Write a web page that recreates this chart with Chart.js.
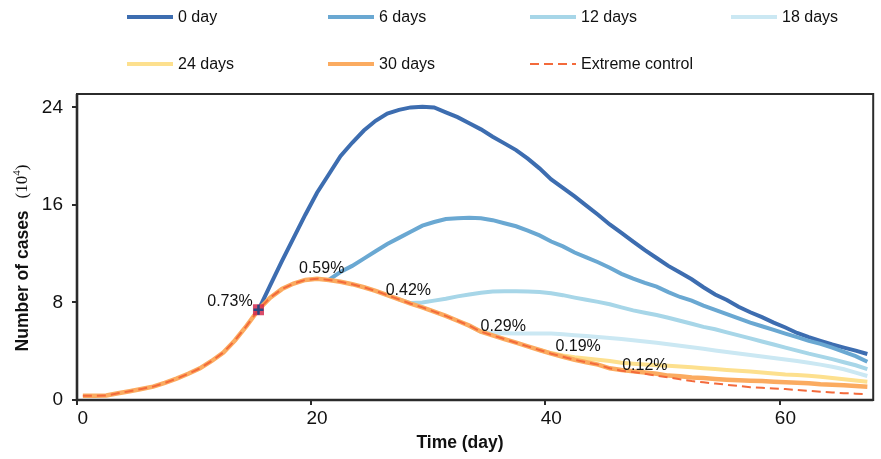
<!DOCTYPE html>
<html>
<head>
<meta charset="utf-8">
<script src="https://cdn.jsdelivr.net/npm/chart.js@4"></script>
<style>
html, body { margin: 0; padding: 0; background: #fff; }
</style>
</head>
<body>
<canvas id="myChart" width="881" height="459"></canvas>
<script>
// days 0..67 of the simulation
const days = Array.from({ length: 68 }, (_, i) => i);

// the common trajectory = extreme control, days 0..67 (cases, 10^4)
const extremeControl = [0.35, 0.35, 0.37, 0.55, 0.72, 0.9, 1.1, 1.4, 1.75, 2.15, 2.6, 3.2, 3.9, 4.9, 6.1, 7.4,
    8.4, 9.1, 9.55, 9.85, 9.95, 9.85, 9.7, 9.5, 9.25, 8.95, 8.6, 8.25, 7.9, 7.6, 7.25,
    6.9, 6.5, 6.1, 5.6, 5.3, 5.0, 4.7, 4.4, 4.1, 3.8, 3.55, 3.3, 3.1, 2.9, 2.6,
    2.4, 2.3, 2.15, 2.0, 1.85, 1.7, 1.55, 1.45, 1.35, 1.25, 1.15, 1.05, 1.0, 0.95, 0.9, 0.82, 0.75, 0.68, 0.62, 0.56, 0.52, 0.49];

// branches, each starting on its own day
const zeroDayStart = 15;
const zeroDay = [7.4, 9.4, 11.4, 13.3, 15.2, 17.0, 18.5, 20.0, 21.1, 22.1, 22.9, 23.5, 23.8, 24.0, 24.05,
    24.0, 23.6, 23.2, 22.7, 22.2, 21.6, 21.05, 20.5, 19.8, 19.0, 18.1, 17.4, 16.7, 15.95, 15.2,
    14.4, 13.7, 13.0, 12.3, 11.65, 11.0, 10.45, 9.9, 9.25, 8.65, 8.2, 7.65, 7.2, 6.8, 6.35,
    5.95, 5.5, 5.15, 4.85, 4.55, 4.3, 4.05, 3.77];
const sixDaysStart = 21;
const sixDays = [9.85, 10.5, 11.0, 11.6, 12.2, 12.8, 13.3, 13.8, 14.3, 14.6, 14.85, 14.9, 14.95, 14.9, 14.75,
    14.5, 14.25, 13.9, 13.5, 13.0, 12.6, 12.1, 11.7, 11.3, 10.85, 10.35, 9.95, 9.6, 9.3, 8.85,
    8.45, 8.15, 7.75, 7.4, 7.05, 6.7, 6.35, 6.05, 5.75, 5.45, 5.15, 4.85, 4.6, 4.3, 3.95, 3.6, 3.14];
const twelveDaysStart = 27;
const twelveDays = [8.25, 7.95, 8.0, 8.15, 8.3, 8.5, 8.65, 8.8, 8.9, 8.92, 8.92, 8.9, 8.85, 8.75, 8.6,
    8.4, 8.22, 8.05, 7.85, 7.6, 7.35, 7.15, 6.97, 6.75, 6.5, 6.25, 6.0, 5.8, 5.55, 5.3,
    5.05, 4.8, 4.55, 4.3, 4.05, 3.8, 3.58, 3.35, 3.1, 2.85, 2.54];
const eighteenDaysStart = 33;
const eighteenDays = [6.1, 5.6, 5.5, 5.47, 5.46, 5.45, 5.45, 5.45, 5.4, 5.32, 5.25, 5.17, 5.08, 5.0, 4.9,
    4.8, 4.7, 4.58, 4.45, 4.32, 4.2, 4.06, 3.94, 3.82, 3.7, 3.57, 3.45, 3.33, 3.2, 3.06,
    2.9, 2.72, 2.52, 2.25, 1.97];
const twentyFourDaysStart = 39;
const twentyFourDays = [4.1, 3.85, 3.65, 3.5, 3.4, 3.3, 3.2, 3.05, 2.98, 2.92, 2.86, 2.8, 2.74, 2.68, 2.6,
    2.54, 2.47, 2.4, 2.33, 2.26, 2.18, 2.1, 2.05, 1.98, 1.9, 1.8, 1.7, 1.6, 1.5];
const thirtyDaysStart = 45;
const thirtyDays = [2.6, 2.46, 2.35, 2.25, 2.15, 2.0, 1.95, 1.85, 1.8, 1.72, 1.66, 1.62, 1.58, 1.55, 1.5,
    1.45, 1.42, 1.38, 1.3, 1.25, 1.2, 1.15, 1.09];

// control start marker
const markerDay = 15;
const markerValue = 7.4;

// percentages written next to each branch: [text, day, value]
const noteTexts = ['0.73%', '0.59%', '0.42%', '0.29%', '0.19%', '0.12%'];
const noteDays = [14.5, 20.4, 27.8, 35.9, 42.3, 48.0];
const noteValues = [8.1, 10.8, 8.95, 6.05, 4.35, 2.8];

const xTicks = [0, 20, 40, 60];
const yTicks = [0, 8, 16, 24];

const FONT = '"Liberation Sans", Arial, Helvetica, sans-serif';

function branch(values, start, withPrefix) {
    return days.map(d => ({
        x: d,
        y: d < start ? (withPrefix ? extremeControl[d] : null) : values[d - start]
    }));
}

const series = [
    { label: '0 day', color: '#3d6db0', width: 4, data: branch(zeroDay, zeroDayStart) },
    { label: '6 days', color: '#6aa8d2', width: 4, data: branch(sixDays, sixDaysStart) },
    { label: '12 days', color: '#a7d6e8', width: 4, data: branch(twelveDays, twelveDaysStart) },
    { label: '18 days', color: '#cbe8f3', width: 4, data: branch(eighteenDays, eighteenDaysStart) },
    { label: '24 days', color: '#fde08e', width: 4, data: branch(twentyFourDays, twentyFourDaysStart) },
    { label: '30 days', color: '#fbab60', width: 4.5, data: branch(thirtyDays, thirtyDaysStart, true) },
    { label: 'Extreme control', color: '#f36a3b', width: 2, dash: [9, 5], data: days.map(d => ({ x: d, y: extremeControl[d] })) }
];

const datasets = series.map((s, i) => ({
    label: s.label,
    data: s.data,
    borderColor: s.color,
    backgroundColor: s.color,
    borderWidth: s.width,
    borderDash: s.dash || [],
    pointRadius: 0,
    tension: 0,
    spanGaps: false,
    order: series.length - i + 2
}));

datasets.push({
    label: 'marker',
    data: [{ x: markerDay, y: markerValue }],
    showLine: false,
    pointStyle: 'rect',
    pointRadius: 7.8,
    pointBackgroundColor: 'rgba(212, 45, 80, 0.85)',
    pointBorderWidth: 0,
    order: 1
});
datasets.push({
    label: 'marker cross',
    data: [{ x: markerDay, y: markerValue }],
    showLine: false,
    pointStyle: 'cross',
    pointRadius: 5,
    pointBorderColor: '#2b4782',
    pointBorderWidth: 2.5,
    order: 0
});

const framePlugin = {
    id: 'frame',
    beforeDatasetsDraw(chart) {
        const a = chart.chartArea;
        const ctx = chart.ctx;
        ctx.save();
        ctx.strokeStyle = '#2b2b2b';
        ctx.lineWidth = 2;
        ctx.strokeRect(a.left, a.top, a.right - a.left, a.bottom - a.top);
        ctx.lineWidth = 2.6;
        ctx.beginPath();
        ctx.moveTo(a.left, a.top);
        ctx.lineTo(a.left, a.bottom);
        ctx.lineTo(a.right, a.bottom);
        ctx.stroke();
        ctx.restore();
    }
};

const textPlugin = {
    id: 'texts',
    afterDraw(chart) {
        const ctx = chart.ctx;
        const xs = chart.scales.x, ys = chart.scales.y;
        ctx.save();
        ctx.fillStyle = '#111';

        // notes
        ctx.font = '16px ' + FONT;
        ctx.textBaseline = 'middle';
        noteTexts.forEach((t, i) => {
            ctx.textAlign = i === 0 ? 'right' : 'center';
            ctx.fillText(t, xs.getPixelForValue(noteDays[i]), ys.getPixelForValue(noteValues[i]));
        });

        // x title
        ctx.font = 'bold 17.5px ' + FONT;
        ctx.textAlign = 'center';
        ctx.fillText('Time (day)', 460, 443);

        // y title
        ctx.translate(23, 258);
        ctx.rotate(-Math.PI / 2);
        const main = 'Number of cases';
        const mainW = ctx.measureText(main).width;
        ctx.font = '17px "Liberation Serif", "Times New Roman", serif';
        const w1 = ctx.measureText('(10').width;
        ctx.font = '11px "Liberation Serif", "Times New Roman", serif';
        const w2 = ctx.measureText('4').width;
        ctx.font = '17px "Liberation Serif", "Times New Roman", serif';
        const w3 = ctx.measureText(')').width;
        const gap = 12;
        const total = mainW + gap + w1 + w2 + w3;
        let x = -total / 2;
        ctx.textAlign = 'left';
        ctx.font = 'bold 17.5px ' + FONT;
        ctx.fillText(main, x, 0);
        x += mainW + gap;
        ctx.font = '17px "Liberation Serif", "Times New Roman", serif';
        ctx.fillText('(10', x, 0);
        x += w1;
        ctx.font = '11px "Liberation Serif", "Times New Roman", serif';
        ctx.fillText('4', x, -6);
        x += w2;
        ctx.font = '17px "Liberation Serif", "Times New Roman", serif';
        ctx.fillText(')', x, 0);
        ctx.restore();
    }
};

const legendPlugin = {
    id: 'customLegend',
    afterDraw(chart) {
        const ctx = chart.ctx;
        const cols = [127, 328, 530, 731];
        const rows = [17, 64];
        ctx.save();
        ctx.font = '16px ' + FONT;
        ctx.textBaseline = 'middle';
        ctx.textAlign = 'left';
        series.forEach((s, i) => {
            const x = cols[i % 4];
            const y = rows[Math.floor(i / 4)];
            ctx.strokeStyle = s.color;
            ctx.lineWidth = s.dash ? 2 : 4;
            ctx.setLineDash(s.dash || []);
            ctx.lineCap = 'butt';
            ctx.beginPath();
            ctx.moveTo(x, y);
            ctx.lineTo(x + 46, y);
            ctx.stroke();
            ctx.setLineDash([]);
            ctx.fillStyle = '#111';
            ctx.fillText(s.label, x + 51, y + 1);
        });
        ctx.restore();
    }
};

new Chart(document.getElementById('myChart').getContext('2d'), {
    type: 'line',
    data: { datasets: datasets },
    options: {
        responsive: false,
        animation: false,
        events: [],
        layout: { padding: { top: 94, right: 5, left: 0, bottom: 0 } },
        plugins: {
            legend: { display: false },
            tooltip: { enabled: false }
        },
        scales: {
            x: {
                type: 'linear',
                min: -0.5,
                max: 67.5,
                afterBuildTicks: scale => { scale.ticks = xTicks.map(v => ({ value: v - 0.5 })); },
                afterFit: scale => { scale.height = 59; },
                border: { display: false },
                grid: { drawOnChartArea: false, drawTicks: true, tickLength: 5, color: '#2b2b2b', lineWidth: 2 },
                ticks: {
                    autoSkip: false,
                    maxRotation: 0,
                    padding: 2,
                    labelOffset: 5.9,
                    color: '#111',
                    font: { family: FONT, size: 19 },
                    callback: v => String(Math.round(v + 0.5))
                }
            },
            y: {
                min: 0,
                max: 25.1,
                afterBuildTicks: scale => { scale.ticks = yTicks.map(v => ({ value: v })); },
                afterFit: scale => { scale.width = 77; },
                border: { display: false },
                grid: { drawOnChartArea: false, drawTicks: true, tickLength: 5, color: '#2b2b2b', lineWidth: 2 },
                ticks: {
                    padding: 9,
                    color: '#111',
                    font: { family: FONT, size: 19 }
                }
            }
        }
    },
    plugins: [framePlugin, textPlugin, legendPlugin]
});
</script>
</body>
</html>
